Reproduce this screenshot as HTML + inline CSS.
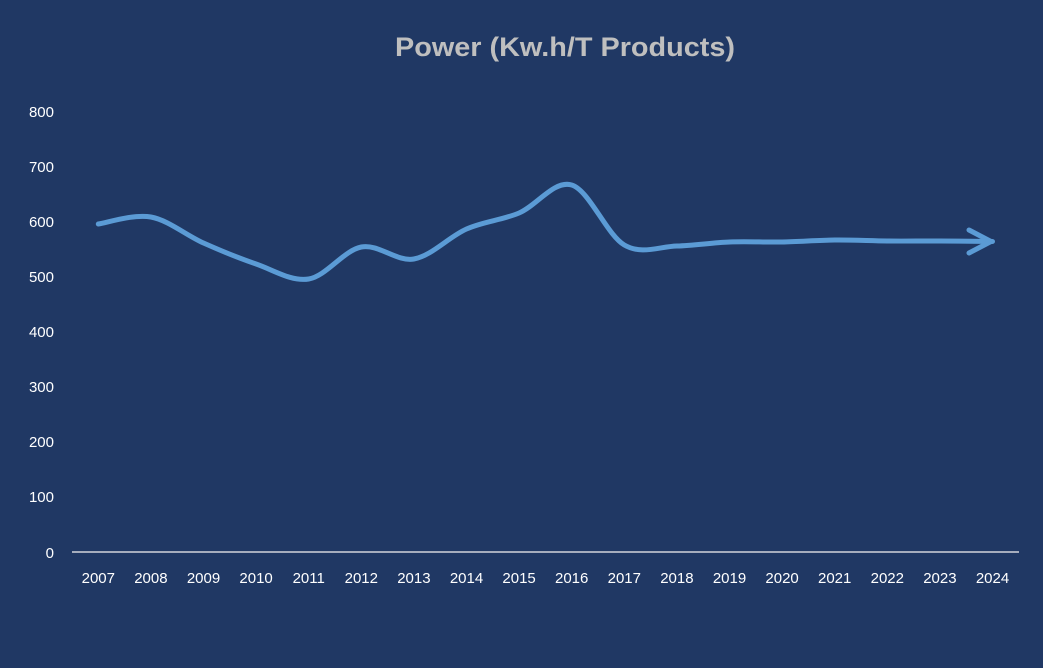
<!DOCTYPE html>
<html><head><meta charset="utf-8"><style>
html,body{margin:0;padding:0;background:#203864;}
svg{display:block;font-family:"Liberation Sans",Calibri,sans-serif;}
</style></head><body>
<svg id="c" width="1043" height="668" viewBox="0 0 1043 668" xmlns="http://www.w3.org/2000/svg">
<rect width="1043" height="668" fill="#203864"/>
<text x="565" y="56" text-anchor="middle" font-size="27" font-weight="bold" fill="#bfbfbf" textLength="340" lengthAdjust="spacingAndGlyphs">Power (Kw.h/T Products)</text>
<g font-size="15" fill="#ffffff" text-anchor="end">
<text x="54" y="117">800</text><text x="54" y="172">700</text><text x="54" y="227">600</text>
<text x="54" y="282">500</text><text x="54" y="337">400</text><text x="54" y="392">300</text>
<text x="54" y="447">200</text><text x="54" y="502">100</text><text x="54" y="558">0</text>
</g>
<line x1="72" y1="552" x2="1019" y2="552" stroke="#a6adbd" stroke-width="2"/>
<g id="xl" font-size="15" fill="#ffffff" text-anchor="middle"></g>
<path id="ln" fill="none" stroke="#5b9bd5" stroke-width="5" stroke-linecap="round" stroke-linejoin="round"/>
<path d="M969 230 L991 241.5 L969 253" fill="none" stroke="#5b9bd5" stroke-width="5" stroke-linecap="round" stroke-linejoin="round"/>
</svg>
<script>
var ys=[224,217,243,264,279,247,259,229,213,185,245,246,242,242,240,241,241,241.5];
var pts=ys.map(function(y,i){return [98.3+52.6*i,y];});
var xl=document.getElementById('xl'),h='';
for(var i=0;i<18;i++)h+='<text x="'+pts[i][0].toFixed(1)+'" y="583">'+(2007+i)+'</text>';
xl.innerHTML=h;
var d='M'+pts[0][0]+' '+pts[0][1];
for(var i=0;i<pts.length-1;i++){
 var p0=pts[i-1]||pts[i],p1=pts[i],p2=pts[i+1],p3=pts[i+2]||p2;
 var t=0.5/3;
 var c1=[p1[0]+(p2[0]-p0[0])*t,p1[1]+(p2[1]-p0[1])*t];
 var c2=[p2[0]-(p3[0]-p1[0])*t,p2[1]-(p3[1]-p1[1])*t];
 d+=' C'+c1[0].toFixed(1)+' '+c1[1].toFixed(1)+' '+c2[0].toFixed(1)+' '+c2[1].toFixed(1)+' '+p2[0].toFixed(1)+' '+p2[1].toFixed(1);
}
document.getElementById('ln').setAttribute('d',d);
</script>
</body></html>
